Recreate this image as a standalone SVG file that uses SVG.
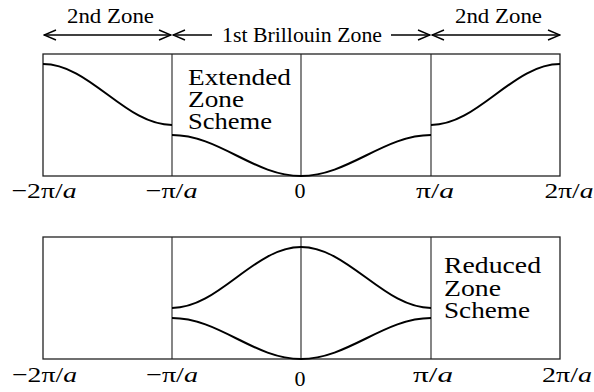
<svg xmlns="http://www.w3.org/2000/svg" width="594" height="392" viewBox="0 0 594 392">
<style>
.frame{fill:none;stroke:#222;stroke-width:1.3}
.vl{stroke:#222;stroke-width:1.1}
.curve{fill:none;stroke:#000;stroke-width:2}
.arr{fill:none;stroke:#000;stroke-width:1.4}
text{font-family:'Liberation Serif','Times New Roman',serif;fill:#000}
.t{font-size:20px}
.box{font-size:23.5px}
.lab{font-size:22px}
.it{font-style:italic}
</style>
<defs>
<marker id="ah" viewBox="0 0 14 12" refX="13" refY="6" markerWidth="14" markerHeight="12" markerUnits="userSpaceOnUse" orient="auto-start-reverse">
<path d="M1,1 L13,6 L1,11" fill="none" stroke="#000" stroke-width="1.4"/>
</marker>
</defs>
<rect width="594" height="392" fill="#fff"/>

<g id="header">
<text class="t" x="110.5" y="23" text-anchor="middle" textLength="87" lengthAdjust="spacingAndGlyphs">2nd Zone</text>
<text class="t" x="498.5" y="23" text-anchor="middle" textLength="87" lengthAdjust="spacingAndGlyphs">2nd Zone</text>
<text class="t" x="302" y="42" text-anchor="middle" textLength="160" lengthAdjust="spacingAndGlyphs">1st Brillouin Zone</text>
</g>

<g id="connectors">
<line class="arr" x1="44" y1="35" x2="171" y2="35" marker-start="url(#ah)" marker-end="url(#ah)"/>
<line class="arr" x1="212" y1="35" x2="173" y2="35" marker-end="url(#ah)"/>
<line class="arr" x1="391" y1="35" x2="430" y2="35" marker-end="url(#ah)"/>
<line class="arr" x1="432" y1="35" x2="560" y2="35" marker-start="url(#ah)" marker-end="url(#ah)"/>
</g>

<g id="extended">
<rect class="frame" x="43" y="54" width="517" height="122"/>
<line class="vl" x1="172" y1="54" x2="172" y2="176"/>
<line class="vl" x1="301" y1="54" x2="301" y2="176"/>
<line class="vl" x1="431" y1="54" x2="431" y2="176"/>
<path class="curve" d="M43,64 C90,64 125,125 172,125"/>
<path class="curve" d="M172,135 C219,135 254,176 301,176 C348,176 384,135 431,135"/>
<path class="curve" d="M431,125 C478,125 513,64 560,64"/>
<text class="box"><tspan x="188" y="85" textLength="103" lengthAdjust="spacingAndGlyphs">Extended</tspan><tspan x="188" y="107" textLength="56" lengthAdjust="spacingAndGlyphs">Zone</tspan><tspan x="188" y="129" textLength="84" lengthAdjust="spacingAndGlyphs">Scheme</tspan></text>
</g>

<g id="reduced">
<rect class="frame" x="43" y="237" width="517" height="122"/>
<line class="vl" x1="172" y1="237" x2="172" y2="359"/>
<line class="vl" x1="301" y1="237" x2="301" y2="359"/>
<line class="vl" x1="431" y1="237" x2="431" y2="359"/>
<path class="curve" d="M172,308 C219,308 254,247 301,247 C348,247 384,308 431,308"/>
<path class="curve" d="M172,318 C219,318 254,359 301,359 C348,359 384,318 431,318"/>
<text class="box"><tspan x="444" y="273" textLength="97" lengthAdjust="spacingAndGlyphs">Reduced</tspan><tspan x="444" y="296" textLength="57" lengthAdjust="spacingAndGlyphs">Zone</tspan><tspan x="444" y="318" textLength="86" lengthAdjust="spacingAndGlyphs">Scheme</tspan></text>
</g>

<g id="axis-top">
<text class="lab" x="44" y="198" text-anchor="middle" textLength="65" lengthAdjust="spacingAndGlyphs">−2π/<tspan class="it">a</tspan></text>
<text class="lab" x="171.5" y="198" text-anchor="middle" textLength="52" lengthAdjust="spacingAndGlyphs">−π/<tspan class="it">a</tspan></text>
<text class="lab" x="300" y="198" text-anchor="middle">0</text>
<text class="lab" x="435" y="198" text-anchor="middle" textLength="38" lengthAdjust="spacingAndGlyphs">π/<tspan class="it">a</tspan></text>
<text class="lab" x="569" y="198" text-anchor="middle" textLength="49" lengthAdjust="spacingAndGlyphs">2π/<tspan class="it">a</tspan></text>
</g>

<g id="axis-bottom">
<text class="lab" x="44.5" y="382" text-anchor="middle" textLength="65" lengthAdjust="spacingAndGlyphs">−2π/<tspan class="it">a</tspan></text>
<text class="lab" x="172" y="382" text-anchor="middle" textLength="52" lengthAdjust="spacingAndGlyphs">−π/<tspan class="it">a</tspan></text>
<text class="lab" x="300" y="386" text-anchor="middle">0</text>
<text class="lab" x="433" y="382" text-anchor="middle" textLength="40" lengthAdjust="spacingAndGlyphs">π/<tspan class="it">a</tspan></text>
<text class="lab" x="567" y="382" text-anchor="middle" textLength="50" lengthAdjust="spacingAndGlyphs">2π/<tspan class="it">a</tspan></text>
</g>
</svg>
